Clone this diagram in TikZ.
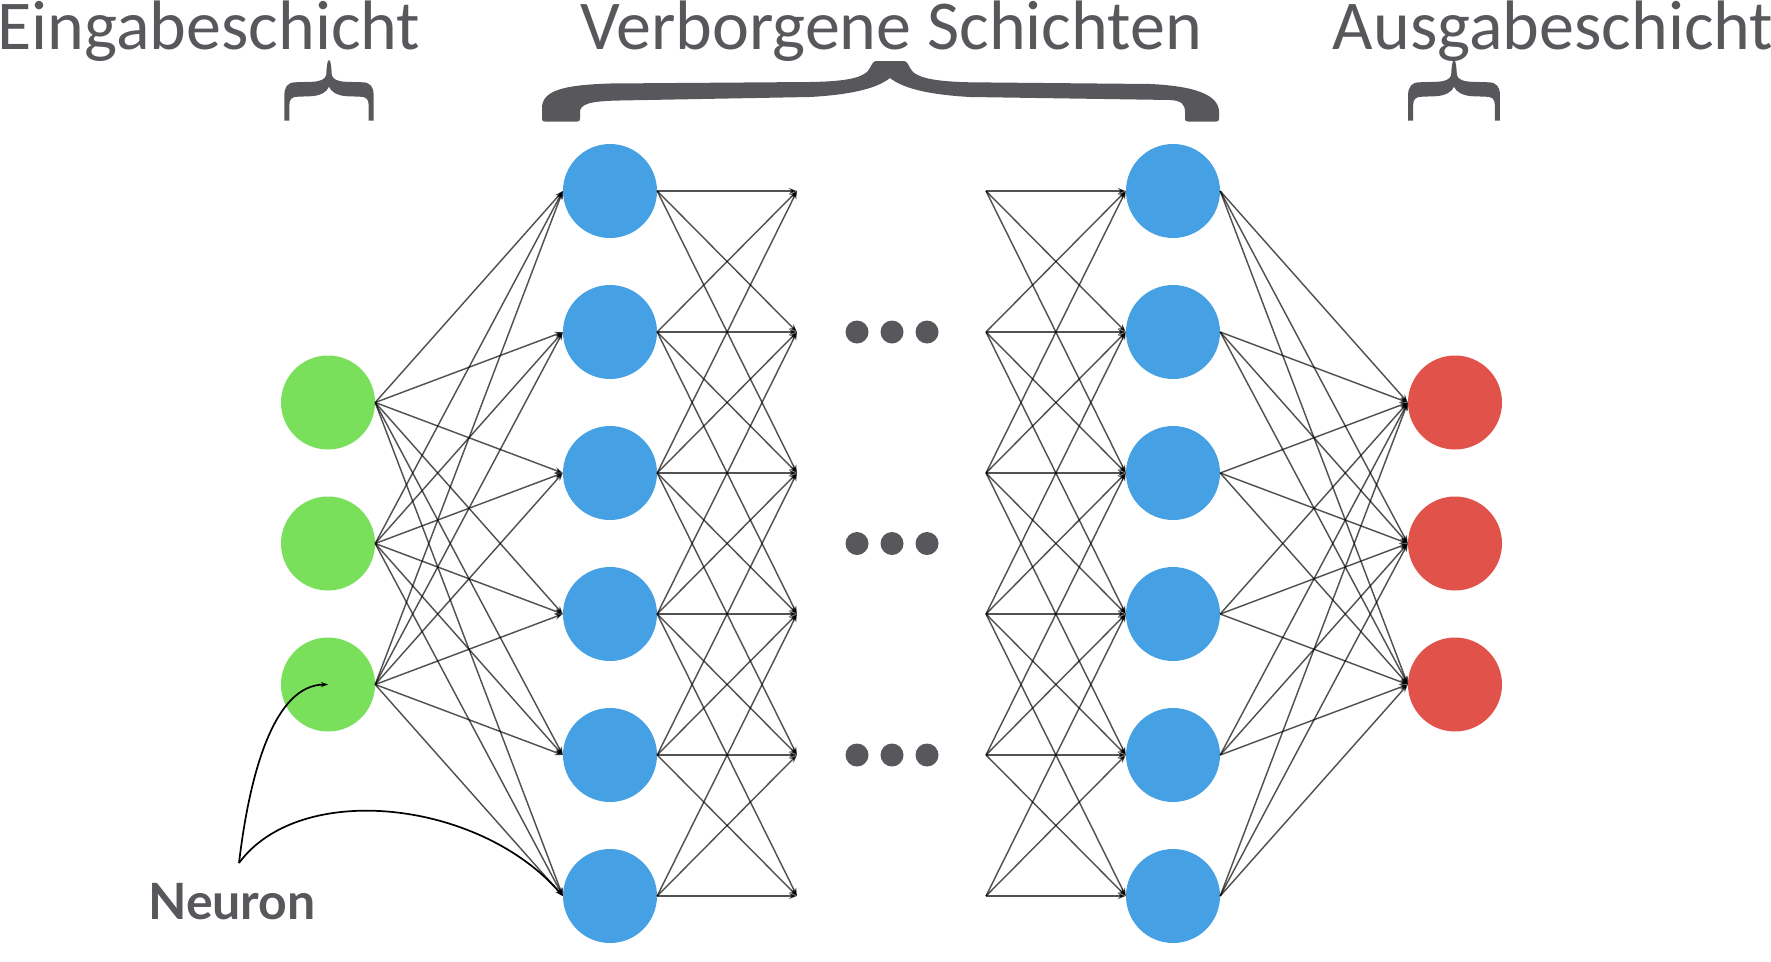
\documentclass[tikz,border=0pt]{standalone}
\usepackage{fontspec}
\setmainfont{Carlito}
\newfontfamily\labelfont{Lato}
\usetikzlibrary{arrows.meta}
\definecolor{ngreen}{HTML}{7ADF5A}
\definecolor{nblue}{HTML}{45A1E3}
\definecolor{nred}{HTML}{E1524A}
\definecolor{tgrey}{HTML}{58585C}
\newcommand{\smallbrace}[2]{% #1 = tip x, #2 = horizontal scale
  \fill[tgrey] (#1,60)
    .. controls ({#1+#2*1.5},60) and ({#1+#2*2.3},66) .. ({#1+#2*2.7},75)
    .. controls ({#1+#2*3.5},79) and ({#1+#2*8},81.5) .. ({#1+#2*16.7},81.8)
    -- ({#1+#2*33},82.3)
    .. controls ({#1+#2*40},82.5) and ({#1+#2*43.3},87) .. ({#1+#2*43.3},95)
    -- ({#1+#2*43.3},120.7) -- ({#1+#2*38.5},120.7) -- ({#1+#2*38.5},105)
    .. controls ({#1+#2*38.5},99) and ({#1+#2*36},96.7) .. ({#1+#2*30},96.7)
    -- ({#1+#2*16.7},96.2)
    .. controls ({#1+#2*8},95.5) and ({#1+#2*2},92) .. (#1,86.7)
    .. controls ({#1-#2*2},92) and ({#1-#2*8},95.5) .. ({#1-#2*16.7},96.2)
    -- ({#1-#2*30},96.7)
    .. controls ({#1-#2*36},96.7) and ({#1-#2*38.5},99) .. ({#1-#2*38.5},105)
    -- ({#1-#2*38.5},120.7) -- ({#1-#2*43.3},120.7) -- ({#1-#2*43.3},95)
    .. controls ({#1-#2*43.3},87) and ({#1-#2*40},82.5) .. ({#1-#2*33},82.3)
    -- ({#1-#2*16.7},81.8)
    .. controls ({#1-#2*8},81.5) and ({#1-#2*3.5},79) .. ({#1-#2*2.7},75)
    .. controls ({#1-#2*2.3},66) and ({#1-#2*1.5},60) .. (#1,60) -- cycle;}
\begin{document}
\begin{tikzpicture}[x=1pt,y=-1pt,
  neuron/.style={circle,minimum size=94pt,inner sep=0pt,draw=none},
  inneuron/.style={neuron,fill=ngreen},
  hidneuron/.style={neuron,fill=nblue},
  outneuron/.style={neuron,fill=nred},
  conn/.style={draw=black,draw opacity=0.68,line width=1.45pt,
    -{Stealth[length=8pt,width=6pt]}},
  pointer/.style={draw=black,line width=1.7pt,-{Stealth[length=7pt,width=5pt]}},
  title/.style={font=\fontsize{70}{70}\selectfont,text=tgrey,inner sep=0pt,
    text height=46pt,text depth=14pt},
  labeltext/.style={font=\labelfont\bfseries\fontsize{50}{50}\selectfont,text=tgrey,inner sep=0pt},
  dot/.style={circle,fill=tgrey,minimum size=23pt,inner sep=0pt}
]
\useasboundingbox (0,0) rectangle (1771,961);

% neurons
\foreach \i/\y in {1/402.5,2/543.5,3/684.5}{
  \node[inneuron] (in\i) at (328,\y) {};
  \node[outneuron] (out\i) at (1455,\y) {};
}
\foreach \i in {1,...,6}{
  \pgfmathsetmacro\yy{191+141*(\i-1)}
  \node[hidneuron] (hl\i) at (610,\yy) {};
  \node[hidneuron] (hr\i) at (1173,\yy) {};
  \coordinate (ml\i) at (797,\yy);
  \coordinate (mr\i) at (986,\yy);
}

% input -> first hidden
\foreach \i in {1,2,3}{
  \foreach \j in {1,...,6}{
    \draw[conn] (in\i.east) -- (hl\j.west);
  }
}
% first hidden -> partial
\foreach \i in {1,...,6}{
  \foreach \j in {1,...,6}{
    \pgfmathtruncatemacro\d{abs(\i-\j)}
    \ifnum\d<3
      \draw[conn] (hl\i.east) -- (ml\j);
      \draw[conn] (mr\i) -- (hr\j.west);
    \fi
  }
}
% last hidden -> output
\foreach \i in {1,...,6}{
  \foreach \j in {1,2,3}{
    \draw[conn] (hr\i.east) -- (out\j.west);
  }
}

% dots
\foreach \k/\y in {1/332,2/543.5,3/755}{
  \node[dot] (da\k) at (857,\y) {};
  \node[dot] (db\k) at (892,\y) {};
  \node[dot] (dc\k) at (927,\y) {};
}

% titles
\node[title,anchor=base] (tin) at (209,49) {Eingabeschicht};
\node[title,anchor=base] (thid) at (891,49) {Verborgene Schichten};
\node[title,anchor=base] (tout) at (1553,49) {Ausgabeschicht};

% braces
\smallbrace{329}{1.03}
\smallbrace{1454}{1.06}
\fill[tgrey] (876,61) -- (904,61)
  .. controls (908,61) and (909,68) .. (913,72)
  .. controls (920,78) and (935,81.5) .. (970,82.3)
  -- (1150,84)
  .. controls (1195,86) and (1219,95) .. (1219,112)
  -- (1219,119) .. controls (1219,121) and (1218,121.5) .. (1216,121.5)
  -- (1188,121.5) .. controls (1186,121.5) and (1185,121) .. (1185,119)
  -- (1185,112) .. controls (1185,104) and (1181,100.5) .. (1170,100)
  -- (970,97)
  .. controls (935,95) and (905,90) .. (890,78)
  .. controls (875,90) and (845,95) .. (810,97)
  -- (620,100.5)
  .. controls (590,101) and (580,104) .. (580,112)
  -- (580,119) .. controls (580,121) and (579,121.5) .. (577,121.5)
  -- (545,121.5) .. controls (543,121.5) and (542,121) .. (542,119)
  -- (542,108) .. controls (542,90) and (565,85) .. (610,83.5)
  -- (810,82)
  .. controls (845,81.5) and (860,78) .. (867,72)
  .. controls (871,68) and (872,61) .. (876,61) -- cycle;

% neuron label and pointers
\node[labeltext,anchor=base] (lab) at (232,919) {Neuron};
\coordinate (np) at (239,863);
\draw[pointer] (np) .. controls (250,770) and (275,685) .. (in3.center);
\draw[pointer] (np) .. controls (300,780) and (480,800) .. (hl6.west);
\end{tikzpicture}
\end{document}
